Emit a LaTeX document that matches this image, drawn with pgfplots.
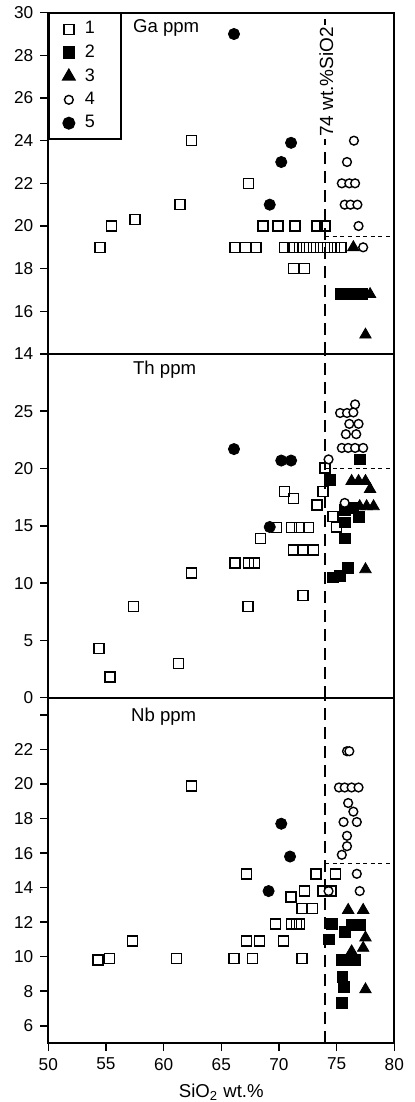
\documentclass[border=0pt]{standalone}
\usepackage{fontspec}
\setmainfont{Liberation Sans}
\usepackage{pgfplots}
\pgfplotsset{compat=1.18}
\tikzset{
  vdash/.style={line width=0.9pt, dash pattern=on 6pt off 3.5pt},
  hdot/.style={line width=0.6pt, dash pattern=on 2pt off 1.8pt},
  plab/.style={anchor=base west, font=\fontsize{9.3}{11}\selectfont},
}
\pgfplotsset{
  panel/.style={scale only axis, width=173pt, xmin=50, xmax=80, anchor=south west, clip=false,
    axis line style={line width=0.9pt}, tick align=outside, ytick pos=left, xtick pos=bottom,
    major tick length=4pt, tick style={black,line width=0.8pt},
    tick label style={font=\fontsize{8.6}{10}\selectfont},
    /pgf/number format/assume math mode=true},
  leg/.style={legend image code/.code={\path[draw=none,fill=none] (0cm,-0.1cm) rectangle (0.45cm,0.1cm); \draw[mark repeat=2,mark phase=2,##1] plot coordinates {(0cm,0cm) (0.24cm,0cm) (0.45cm,0cm)};}},
  g1/.style={only marks, mark=square, mark size=2.5pt, mark options={line width=0.75pt, draw=black}, leg},
  g2/.style={only marks, mark=square*, mark size=2.7pt, mark options={draw=black, fill=black}, leg},
  g3/.style={only marks, mark=triangle*, mark size=3.3pt, mark options={draw=black, fill=black}, leg},
  g4/.style={only marks, mark=*, mark size=2.2pt, mark options={line width=0.7pt, draw=black, fill=white}, leg},
  g5/.style={only marks, mark=*, mark size=2.8pt, mark options={draw=black, fill=black}, leg},
}
\begin{document}
\begin{tikzpicture}
\useasboundingbox (-24.15pt,-29.5pt) rectangle (183.35pt,521.5pt);
% ---------------- Ga (top) ----------------
\begin{axis}[panel, at={(0pt,344.5pt)}, height=170.65pt, ymin=14, ymax=30,
  ytick={14,16,...,30}, xtick=\empty,
  legend style={at={(0,1)}, anchor=north west, draw=black, line width=0.9pt,
    font=\fontsize{9}{10}\selectfont, row sep=0pt, inner xsep=3pt, inner ysep=2pt},
  legend cell align=left]
\addplot[g1] coordinates {(54.5,19) (55.5,20) (57.5,20.3) (61.4,21) (62.4,24) (67.35,22)
  (68.6,20) (69.9,20) (71.4,20) (73.3,20) (74.0,20)
  (66.2,19) (67.1,19) (68.0,19) (70.5,19) (71.2,19) (71.8,19) (72.4,19) (73.0,19) (73.6,19) (74.2,19) (74.8,19) (75.4,19)
  (71.25,18) (72.2,18)};
\addlegendentry{\makebox[13pt][l]{1}}
\addplot[g2] coordinates {(75.4,16.8) (76.0,16.8) (76.6,16.8) (77.2,16.8)};
\addlegendentry{2}
\addplot[g3] coordinates {(76.45,19) (77.9,16.8) (77.5,14.9)};
\addlegendentry{3}
\addplot[g4] coordinates {(76.5,24) (75.9,23) (75.45,22) (76.1,22) (76.6,22) (75.7,21) (76.2,21) (76.8,21) (76.9,20) (77.3,19)};
\addlegendentry{4}
\addplot[g5] coordinates {(66.1,29) (71.05,23.9) (70.2,23) (69.2,21)};
\addlegendentry{5}
\draw[vdash] (axis cs:74,14) -- (axis cs:74,30);
\draw[hdot] (axis cs:74,19.5) -- (axis cs:80,19.5);
\node[rotate=90, fill=white, inner sep=1pt, font=\fontsize{9.5}{11}\selectfont] at (axis cs:74.1,26.75) {74 wt.\%SiO2};
\node[plab] at (rel axis cs:0.2246,0.9405) {Ga ppm};
\end{axis}
% ---------------- Th (middle) ----------------
\begin{axis}[panel, at={(0pt,172.65pt)}, height=171.85pt, ymin=0, ymax=30,
  ytick={0,5,...,25}, xtick=\empty]
\addplot[g1] coordinates {(54.4,4.3) (55.35,1.8) (57.4,7.95) (61.3,3.0) (62.4,10.9)
  (66.2,11.75) (67.35,11.75) (67.9,11.75) (67.3,7.95) (68.4,13.9) (69.8,14.85)
  (70.5,18.0) (71.25,17.4) (71.1,14.85) (71.8,14.85) (72.55,14.85)
  (71.25,12.9) (72.1,12.9) (73.0,12.9) (72.1,8.9) (73.3,16.8) (73.8,18.0) (74.0,20.05)
  (74.7,15.8) (75.0,14.9)};
\addplot[g2] coordinates {(77.0,20.8) (74.4,19.0) (75.7,16.4) (75.7,15.3) (76.9,15.8) (76.4,16.6)
  (75.7,13.9) (74.7,10.5) (75.3,10.6) (76.0,11.3)};
\addplot[g3] coordinates {(76.3,18.9) (76.9,18.9) (77.5,18.9) (77.9,18.2) (77.0,16.7) (77.6,16.7) (78.2,16.7) (77.5,11.2)};
\addplot[g4] coordinates {(76.6,25.6) (75.3,24.85) (75.9,24.85) (76.45,24.9) (76.1,23.9) (76.9,23.9)
  (75.8,23.0) (76.7,23.0) (75.45,21.8) (76.0,21.8) (76.6,21.8) (77.3,21.8) (74.3,20.8) (75.7,17.0)};
\addplot[g5] coordinates {(66.1,21.7) (70.2,20.7) (71.05,20.7) (69.2,14.9)};
\draw[vdash] (axis cs:74,0) -- (axis cs:74,30);
\draw[hdot] (axis cs:74,20) -- (axis cs:80,20);
\node[plab] at (rel axis cs:0.2246,0.939) {Th ppm};
\end{axis}
% ---------------- Nb (bottom) ----------------
\begin{axis}[panel, at={(0pt,0pt)}, height=172.65pt, ymin=5, ymax=25,
  ytick={6,8,...,22}, extra y ticks={24}, extra y tick labels={},
  xtick={50,55,...,80},
  xlabel={SiO\textsubscript{2} wt.\%}, xlabel style={font=\fontsize{9.3}{11}\selectfont}]
\addplot[g1] coordinates {(54.3,9.8) (55.3,9.9) (57.3,10.9) (61.1,9.9) (62.4,19.9) (66.1,9.9) (67.7,9.9)
  (67.2,10.9) (68.3,10.9) (70.4,10.9) (72.0,9.9) (69.7,11.9) (71.1,11.9) (71.5,11.9) (71.8,11.9)
  (72.0,12.8) (72.9,12.8) (71.05,13.45) (72.2,13.8) (73.8,13.8) (74.5,13.8) (67.2,14.8) (73.2,14.8) (74.9,14.8)};
\addplot[g2] coordinates {(74.6,11.9) (74.3,11.0) (75.7,11.45) (76.3,11.85) (77.0,11.85)
  (75.45,9.8) (76.0,9.8) (76.6,9.8) (75.5,8.85) (75.65,8.25) (75.45,7.3)};
\addplot[g3] coordinates {(76.0,12.7) (77.3,12.7) (77.5,11.1) (77.3,10.5) (76.3,10.3) (77.5,8.1)};
\addplot[g4] coordinates {(75.9,21.9) (76.1,21.9) (75.2,19.8) (75.7,19.8) (76.3,19.8) (76.9,19.8)
  (76.0,18.9) (76.45,18.4) (75.6,17.8) (76.75,17.8) (75.9,17.0) (75.9,16.4) (75.45,15.9)
  (76.75,14.8) (77.0,13.8) (74.3,13.8)};
\addplot[g5] coordinates {(70.2,17.7) (70.96,15.8) (69.1,13.8)};
\draw[vdash] (axis cs:74,5) -- (axis cs:74,25);
\draw[hdot] (axis cs:74,15.4) -- (axis cs:80,15.4);
\node[plab] at (rel axis cs:0.219,0.9305) {Nb ppm};
\end{axis}
\end{tikzpicture}
\end{document}
